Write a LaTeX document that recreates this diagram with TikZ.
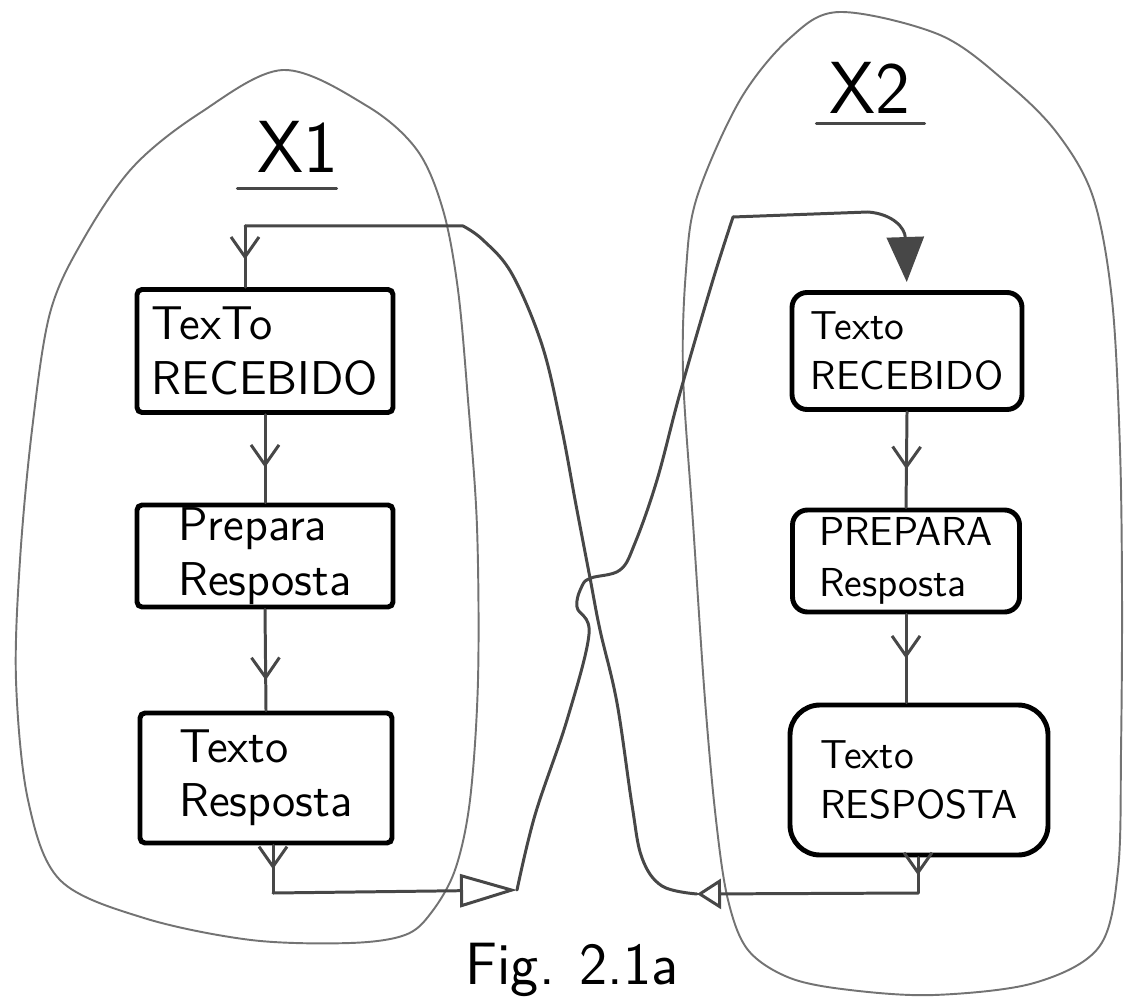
\documentclass[tikz,border=0pt]{standalone}
\usetikzlibrary{arrows.meta,decorations.markings,calc}
\tikzset{
  blob/.style={draw=black!55, line width=0.55pt},
  wire/.style={draw=black!72, line width=0.85pt, line cap=round, line join=round},
  box/.style={draw=black, line width=1.4pt, align=left, inner sep=0pt,
    font=\sffamily\fontsize{13.5}{15.5}\selectfont},
  rbox/.style={box, font=\sffamily\fontsize{11.5}{14.5}\selectfont},
  tag/.style={font=\sffamily\fontsize{21}{25}\selectfont, inner sep=1pt},
  midv/.style={postaction={decorate}, decoration={markings,
    mark=at position #1 with {\arrow{Straight Barb[length=2mm,width=2.8mm,line width=0.85pt]}}}},
}
\begin{document}
\begin{tikzpicture}[x=0.1mm,y=-0.1mm]
\useasboundingbox (0,0) rectangle (1126,999);

% the two enclosures
\draw[blob] plot[smooth cycle, tension=0.55] coordinates {
  (283,70) (367,106) (417,150) (443,210) (458,290) (468,400) (477,527)
  (478,680) (470,800) (455,870) (431,913) (405,935) (350,943) (251,940)
  (144,918) (60,880) (28,800) (16,680) (20,560) (32,430) (50,313)
  (83,240) (133,167) (200,113)};
\draw[blob] plot[smooth cycle, tension=0.55] coordinates {
  (840,12) (940,35) (1007,83) (1057,133) (1093,197) (1112,300) (1120,450)
  (1122,600) (1121,750) (1118,870) (1099,947) (1034,983) (934,995)
  (850,990) (790,978) (748,950) (728,900) (716,820) (705,700) (693,523)
  (683,373) (686,270) (697,197) (740,100) (790,38)};

% titles
\node[tag] (X1) at (298,147) {X1};
\draw[wire] ([xshift=-1.6mm,yshift=-1.2mm]X1.south west) -- ([xshift=-0.6mm,yshift=-1.2mm]X1.south east);
\node[tag] (X2) at (870,88) {X2};
\draw[wire] ([xshift=-0.9mm,yshift=-0.6mm]X2.south west) -- ([xshift=1mm,yshift=-0.6mm]X2.south east);

% process boxes
\node[box, rounded corners=0.5mm, minimum width=25.6mm, minimum height=12.3mm] (L1) at (265,351) {TexTo\\RECEBIDO};
\node[box, rounded corners=0.5mm, minimum width=25.6mm, minimum height=10.2mm] (L2) at (265,556) {Prepara\\Resposta};
\node[box, rounded corners=0.5mm, minimum width=25.2mm, minimum height=13mm] (L3) at (266,778) {Texto\\Resposta};
\node[rbox, rounded corners=1.5mm, minimum width=23mm, minimum height=11.7mm] (R1) at (907,351) {Texto\\RECEBIDO};
\node[rbox, rounded corners=1.5mm, minimum width=22.7mm, minimum height=10.2mm] (R2) at (906,561) {PREPARA\\Resposta};
\node[rbox, rounded corners=3mm, minimum width=25.8mm, minimum height=15mm] (R3) at (919,780) {Texto\\RESPOSTA};

% flow inside each enclosure
\draw[wire, midv=0.6] (L1.south) -- (L2.north);
\draw[wire, midv=0.7] (L2.south) -- (L3.north);
\draw[wire, midv=0.6] (R1.south) -- (R2.north);
\draw[wire, midv=0.5] (R2.south) -- (R2.south |- R3.north);

% X1 answer -> X2 received
\coordinate (a1) at (273,893);
\coordinate (a2) at (517,890);
\coordinate (a3) at (733,217);
\draw[wire, midv=0.5] (L3.south -| a1) -- (a1);
\draw[wire, -{Triangle[open,length=5.7mm,width=3.3mm,line width=0.85pt]}] (a1) -- (a2);
\draw[wire] plot[smooth, tension=0.6] coordinates {
  (a2) (535,815) (567,720) (589,634) (577,607) (582,586) (591,578)
  (620,570) (635,543) (657,480) (680,393) (712,283) (a3)};
\draw[wire, -{Triangle[length=4.5mm,width=3.7mm]}, shorten >=0.8mm]
  (a3) -- (868,212) .. controls (893,214) and (905,228) .. (R1.north);

% X2 answer -> X1 received
\coordinate (d1) at (918,893);
\coordinate (d2) at (697,894);
\coordinate (c1) at (463,226);
\coordinate (c2) at (245,226);
\draw[wire, midv=0.5] (R3.south -| d1) -- (d1);
\draw[wire, -{Triangle[open,length=2.4mm,width=3mm,line width=0.85pt]}] (d1) -- (d2);
\draw[wire] plot[smooth, tension=0.6] coordinates {
  (d2) (662,886) (642,858) (632,805) (617,703) (600,630) (590,578)
  (576,505) (561,425) (542,345) (512,274) (483,240) (c1)} -- (c2);
\draw[wire, midv=0.55] (c2) -- (L1.north -| c2);

% caption
\node[font=\sffamily\fontsize{17}{20}\selectfont, anchor=base] (cap) at (572,984) {Fig. 2.1a};
\end{tikzpicture}
\end{document}
